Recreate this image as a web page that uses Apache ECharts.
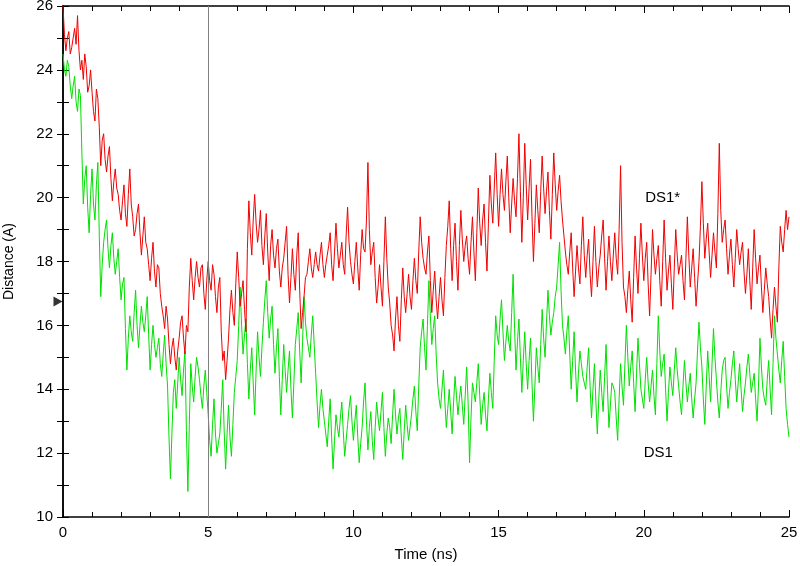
<!DOCTYPE html>
<html>
<head>
<meta charset="utf-8">
<script src="https://cdn.jsdelivr.net/npm/echarts@6/dist/echarts.min.js"></script>
<style>
  html, body { margin: 0; padding: 0; background: #fff; }
  #chart { width: 800px; height: 566px; }
</style>
</head>
<body>
<div id="chart"></div>
<script>
// sample step of the trajectories (ns)
const timeStep = 0.05;

// DS1* distance (A), one value per 0.05 ns from 0 to 25 ns
const ds1StarValues = [
  26.0, 25.1, 24.6, 25.0, 25.2, 24.5, 24.7, 25.0, 25.3, 24.8, 25.7, 24.6, 24.0, 24.3, 23.7, 24.5, 24.1, 23.3, 23.5, 24.0,
  23.3, 22.7, 22.4, 23.4, 23.1, 22.2, 21.0, 21.8, 22.0, 21.2, 20.8, 21.3, 21.6, 20.6, 19.9, 20.5, 20.9, 20.3, 20.1, 19.6,
  19.3, 19.9, 20.4, 19.5, 19.1, 20.1, 20.9, 19.8, 19.4, 18.8, 19.0, 19.5, 19.8, 18.9, 18.2, 18.8, 19.4, 18.6, 18.4, 17.9,
  17.4, 18.1, 18.6, 17.7, 17.2, 17.9, 17.8, 17.0, 16.6, 16.3, 15.9, 16.6, 16.2, 15.4, 14.8, 15.3, 15.6, 15.0, 14.6, 15.2,
  15.6, 16.1, 16.3, 15.6, 15.1, 16.0, 15.8, 17.2, 18.1, 17.4, 16.8, 17.5, 18.0, 17.5, 17.2, 17.8, 17.9, 17.0, 16.5, 17.4,
  18.0, 17.4, 17.1, 17.9, 17.6, 16.9, 16.4, 17.2, 17.5, 15.8, 14.9, 15.2, 14.3, 14.9, 15.6, 16.5, 17.1, 16.4, 16.0, 17.3,
  18.3, 17.5, 16.6, 17.0, 17.4, 16.5, 15.8, 18.4, 19.9, 18.9, 18.2, 19.3, 20.1, 19.2, 18.6, 19.0, 19.6, 18.5, 17.9, 18.8,
  19.5, 18.3, 17.4, 18.5, 19.0, 18.2, 17.8, 18.4, 18.7, 17.7, 17.2, 17.8, 18.1, 18.6, 19.1, 17.6, 16.7, 17.5, 18.4, 17.6,
  17.1, 18.2, 18.9, 17.1, 15.9, 16.4, 16.9, 17.5, 17.6, 18.0, 18.4, 17.8, 17.5, 17.9, 18.3, 17.9, 17.7, 18.2, 18.6, 17.9,
  17.5, 17.9, 18.2, 18.5, 18.9, 17.9, 17.4, 18.3, 19.2, 18.4, 17.8, 18.2, 18.6, 17.9, 17.6, 18.8, 19.7, 18.6, 18.0, 17.6,
  17.3, 18.0, 18.6, 17.8, 17.1, 18.2, 19.0, 18.4, 18.3, 19.3, 21.1, 19.0, 17.9, 18.3, 18.6, 17.5, 16.7, 17.2, 17.9, 17.2,
  16.6, 18.0, 19.4, 18.1, 17.2, 16.7, 16.0, 15.7, 15.2, 16.2, 16.9, 16.0, 15.5, 16.8, 17.8, 16.9, 16.4, 17.0, 17.6, 16.9,
  16.5, 17.4, 18.1, 17.4, 17.0, 18.3, 19.4, 18.6, 18.1, 17.8, 17.6, 18.3, 18.8, 17.4, 16.4, 17.1, 17.7, 16.8, 16.2, 16.9,
  17.5, 16.8, 16.3, 17.5, 18.5, 19.1, 19.9, 18.4, 17.4, 18.5, 19.2, 18.0, 17.1, 18.5, 19.6, 18.7, 18.0, 18.5, 18.8, 18.1,
  17.6, 18.6, 19.4, 18.3, 17.4, 18.9, 20.3, 19.2, 18.5, 19.3, 19.8, 18.6, 17.7, 19.2, 20.7, 19.8, 19.2, 20.3, 21.4, 20.1,
  19.1, 20.1, 20.9, 20.1, 19.6, 20.5, 21.3, 20.0, 18.9, 19.8, 20.6, 19.9, 19.4, 20.6, 22.0, 20.2, 18.6, 20.0, 21.7, 20.4,
  19.3, 20.3, 21.2, 19.4, 18.0, 19.2, 20.4, 19.6, 18.9, 20.2, 21.3, 20.3, 19.5, 20.2, 20.8, 19.6, 18.7, 20.1, 21.4, 20.4,
  19.6, 20.2, 20.7, 19.9, 19.3, 18.8, 18.3, 17.9, 17.6, 18.3, 18.9, 17.8, 16.9, 17.7, 18.5, 17.8, 17.3, 18.5, 19.4, 18.2,
  17.5, 18.2, 18.7, 17.6, 16.9, 18.0, 19.1, 18.0, 17.2, 17.8, 18.2, 18.8, 19.3, 18.1, 17.1, 18.0, 18.8, 18.0, 17.4, 18.2,
  18.9, 18.1, 17.6, 19.0, 21.0, 18.6, 17.2, 16.9, 16.4, 17.1, 17.7, 16.8, 16.1, 17.5, 18.8, 17.8, 17.0, 18.1, 19.2, 18.2,
  17.4, 18.1, 18.6, 17.3, 16.3, 17.6, 19.0, 18.2, 17.6, 18.1, 18.5, 17.4, 16.6, 18.0, 19.3, 18.1, 17.1, 17.7, 18.2, 17.3,
  16.5, 17.8, 19.0, 18.2, 17.6, 17.9, 18.2, 17.4, 16.8, 18.1, 19.4, 18.2, 17.2, 17.8, 18.4, 17.5, 16.6, 17.3, 18.0, 19.1,
  20.5, 19.2, 18.1, 18.7, 19.2, 18.3, 17.5, 18.2, 18.9, 18.3, 17.8, 19.5, 21.7, 19.6, 18.6, 19.0, 19.3, 18.4, 17.6, 18.2,
  18.7, 17.9, 17.2, 18.1, 19.0, 18.4, 17.9, 18.3, 18.6, 17.7, 17.0, 17.6, 18.4, 17.4, 16.5, 17.8, 19.0, 18.1, 17.3, 17.8,
  18.2, 17.2, 16.4, 17.1, 17.8, 17.3, 16.9, 16.2, 15.6, 16.5, 17.2, 16.6, 16.1, 17.8, 19.1, 18.6, 18.3, 19.0, 19.6, 19.0,
  19.4
];

// DS1 distance (A)
const ds1Values = [
  24.5, 24.0, 23.8, 24.3, 24.1, 23.5, 23.1, 23.5, 23.8, 23.0, 22.7, 23.4, 23.2, 21.4, 19.8, 20.6, 21.0, 19.7, 18.9, 20.1,
  20.9, 19.8, 19.3, 20.4, 21.1, 18.8, 16.9, 17.9, 18.6, 19.0, 19.3, 18.4, 17.8, 18.5, 18.9, 18.1, 17.6, 18.0, 18.4, 17.5,
  16.8, 17.3, 17.5, 15.9, 14.6, 15.6, 16.3, 15.8, 15.5, 16.4, 17.1, 16.0, 15.3, 16.0, 16.6, 16.1, 15.8, 16.3, 16.9, 15.7,
  14.6, 15.4, 16.0, 15.4, 15.0, 15.3, 15.6, 14.8, 14.4, 15.1, 15.7, 14.8, 14.1, 12.5, 11.2, 12.6, 13.9, 14.3, 13.4, 14.2,
  15.0, 14.3, 13.8, 14.6, 15.2, 12.7, 10.8, 12.9, 14.8, 14.1, 13.6, 14.4, 15.0, 14.7, 14.3, 13.8, 13.4, 14.1, 14.6, 13.9,
  13.2, 12.4, 11.9, 12.9, 13.7, 12.6, 12.0, 12.3, 12.6, 13.4, 14.3, 12.7, 11.5, 12.6, 13.5, 12.5, 11.9, 12.9, 13.9, 14.4,
  14.9, 16.0, 17.2, 16.0, 15.1, 15.7, 16.2, 14.8, 13.7, 14.6, 15.3, 14.2, 13.2, 14.6, 15.8, 15.0, 14.4, 15.3, 16.1, 16.8,
  17.4, 16.4, 15.6, 16.2, 16.6, 15.4, 14.5, 15.3, 15.9, 14.4, 13.2, 14.3, 15.4, 14.6, 13.9, 14.6, 15.2, 14.0, 13.1, 14.2,
  15.4, 15.9, 16.4, 15.2, 14.2, 15.5, 16.9, 16.1, 15.6, 15.3, 15.0, 15.7, 16.3, 15.4, 14.5, 13.6, 12.8, 13.5, 14.0, 13.4,
  13.0, 12.6, 12.2, 13.0, 13.7, 12.5, 11.5, 12.4, 13.2, 12.8, 12.5, 13.1, 13.6, 12.7, 11.9, 12.4, 12.9, 13.4, 13.8, 13.0,
  12.4, 13.0, 13.5, 12.5, 11.7, 12.3, 12.8, 13.6, 14.2, 13.0, 12.1, 12.8, 13.3, 12.4, 11.8, 12.8, 13.6, 13.1, 12.7, 13.3,
  13.9, 12.8, 11.9, 12.6, 13.1, 12.8, 12.3, 13.2, 14.0, 13.2, 12.6, 13.1, 13.4, 12.5, 11.8, 12.7, 13.5, 12.9, 12.4, 12.8,
  13.2, 13.7, 14.1, 13.3, 12.7, 14.1, 15.3, 15.8, 16.2, 15.3, 14.6, 16.0, 17.4, 16.3, 15.4, 15.9, 16.3, 15.1, 14.2, 13.7,
  13.4, 14.0, 14.6, 13.6, 12.8, 13.4, 14.0, 13.3, 12.6, 13.6, 14.4, 13.8, 13.2, 13.7, 14.1, 13.5, 12.9, 13.8, 14.7, 13.6,
  11.7, 13.1, 14.2, 13.9, 13.6, 14.2, 14.8, 13.8, 12.9, 13.5, 13.9, 13.2, 12.7, 13.7, 14.5, 13.9, 13.4, 14.9, 16.3, 15.7,
  15.4, 16.2, 16.8, 15.8, 14.9, 15.5, 16.0, 15.5, 15.2, 16.4, 17.6, 15.9, 14.6, 15.5, 16.2, 15.0, 13.9, 14.9, 15.8, 14.8,
  14.0, 14.9, 15.6, 14.2, 13.0, 14.1, 15.3, 14.7, 14.2, 15.4, 16.5, 15.6, 15.0, 16.1, 17.1, 16.3, 15.7, 16.1, 16.4, 16.9,
  17.2, 17.9, 18.6, 17.1, 16.0, 15.6, 15.1, 15.8, 16.3, 15.1, 14.0, 14.9, 15.8, 14.6, 13.6, 14.5, 15.2, 14.8, 14.4, 14.2,
  14.0, 14.7, 15.3, 14.1, 13.1, 14.0, 14.8, 13.6, 12.6, 13.7, 14.6, 13.9, 13.3, 14.4, 15.4, 14.0, 12.8, 13.5, 14.2, 14.1,
  13.9, 13.1, 12.4, 13.7, 14.8, 14.1, 13.5, 14.8, 16.0, 15.0, 14.1, 14.7, 15.2, 14.2, 13.3, 14.5, 15.6, 14.8, 14.0, 13.7,
  13.4, 14.3, 15.0, 14.2, 13.6, 14.1, 14.6, 13.8, 13.2, 14.8, 16.3, 15.2, 14.4, 14.8, 15.1, 14.0, 13.0, 13.9, 14.7, 14.2,
  13.8, 14.6, 15.3, 14.6, 14.1, 13.6, 13.2, 14.1, 14.9, 14.2, 13.6, 14.1, 14.5, 13.7, 13.1, 13.7, 14.2, 15.2, 16.1, 15.3,
  14.7, 13.7, 12.9, 14.1, 15.2, 14.4, 13.6, 14.8, 15.9, 15.0, 14.3, 13.6, 13.1, 13.9, 14.6, 14.9, 15.0, 14.1, 13.4, 13.9,
  14.3, 14.8, 15.2, 14.3, 13.6, 14.2, 14.8, 14.0, 13.3, 13.8, 14.2, 14.7, 15.1, 14.5, 13.9, 14.2, 14.5, 13.7, 13.0, 14.1,
  15.6, 14.7, 14.0, 13.7, 13.5, 14.3, 14.9, 14.0, 13.2, 14.8, 16.3, 15.6, 15.1, 14.6, 14.2, 14.9, 15.5, 14.4, 13.4, 12.9,
  12.5
];

const xTicks = [0, 5, 10, 15, 20, 25];
const yTicks = [10, 12, 14, 16, 18, 20, 22, 24, 26];
const markerTime = 5;               // vertical reference line
const arrowPoint = [0, 16.75];      // triangle on the left axis
const seriesLabels = [
  { name: "DS1*", coord: [20.65, 20.0] },
  { name: "DS1", coord: [20.5, 12.0] }
];

const toPairs = values => values.map((v, i) => [+(i * timeStep).toFixed(2), v]);

const font = "Liberation Sans, Arial, sans-serif";

const baseX = {
  type: "value",
  min: xTicks[0],
  max: xTicks[xTicks.length - 1],
  interval: 5,
  axisLine: { lineStyle: { color: "#000", width: 1.5 } },
  axisTick: { inside: true, length: 7, lineStyle: { color: "#000" } },
  minorTick: { show: true, splitNumber: 5, length: 5, lineStyle: { color: "#000" } },
  splitLine: { show: false }
};

const baseY = {
  type: "value",
  min: yTicks[0],
  max: yTicks[yTicks.length - 1],
  interval: 2,
  axisLine: { show: true, lineStyle: { color: "#000", width: 1.5 } },
  axisTick: { show: true, inside: true, length: 6, lineStyle: { color: "#000" } },
  minorTick: { show: true, splitNumber: 2, length: 6, lineStyle: { color: "#000" } },
  splitLine: { show: false }
};

const chart = echarts.init(document.getElementById("chart"));

chart.setOption({
  animation: false,
  backgroundColor: "#fff",
  grid: { left: 63, right: 11, top: 6, bottom: 49, containLabel: false, outerBoundsMode: "none" },
  xAxis: [
    {
      ...baseX,
      position: "bottom",
      name: "Time (ns)",
      nameLocation: "middle",
      nameGap: 30,
      nameTextStyle: { color: "#000", fontSize: 15, fontFamily: font },
      axisLabel: { color: "#000", fontSize: 15, fontFamily: font, margin: 8 }
    },
    {
      ...baseX,
      position: "top",
      axisLabel: { show: false }
    }
  ],
  yAxis: [
    {
      ...baseY,
      position: "left",
      name: "Distance (A)",
      nameLocation: "middle",
      nameGap: 47,
      nameTextStyle: { color: "#000", fontSize: 14, fontFamily: font },
      axisLabel: { color: "#000", fontSize: 15, fontFamily: font, margin: 10 }
    },
    {
      ...baseY,
      position: "right",
      axisLabel: { show: false }
    }
  ],
  series: [
    {
      name: "DS1",
      type: "line",
      data: toPairs(ds1Values),
      showSymbol: false,
      lineStyle: { color: "#00e000", width: 1 },
      markPoint: {
        symbol: "circle",
        symbolSize: 0,
        label: { show: true, position: "inside", formatter: seriesLabels[1].name, color: "#000", fontSize: 15, fontFamily: font },
        data: [{ coord: seriesLabels[1].coord }]
      }
    },
    {
      name: "DS1*",
      type: "line",
      data: toPairs(ds1StarValues),
      showSymbol: false,
      lineStyle: { color: "#f00000", width: 1 },
      markLine: {
        silent: true,
        symbol: "none",
        label: { show: false },
        lineStyle: { color: "#808080", width: 1, type: "solid" },
        data: [{ xAxis: markerTime }]
      },
      markPoint: {
        symbol: "circle",
        symbolSize: 0,
        label: { show: true, position: "inside", formatter: seriesLabels[0].name, color: "#000", fontSize: 15, fontFamily: font },
        data: [{ coord: seriesLabels[0].coord }]
      }
    },
    {
      type: "scatter",
      data: [arrowPoint],
      symbol: "triangle",
      symbolSize: [10, 9],
      symbolRotate: -90,
      symbolOffset: [-5, 0],
      clip: false,
      itemStyle: { color: "#000" },
      silent: true
    }
  ]
});
</script>
</body>
</html>
